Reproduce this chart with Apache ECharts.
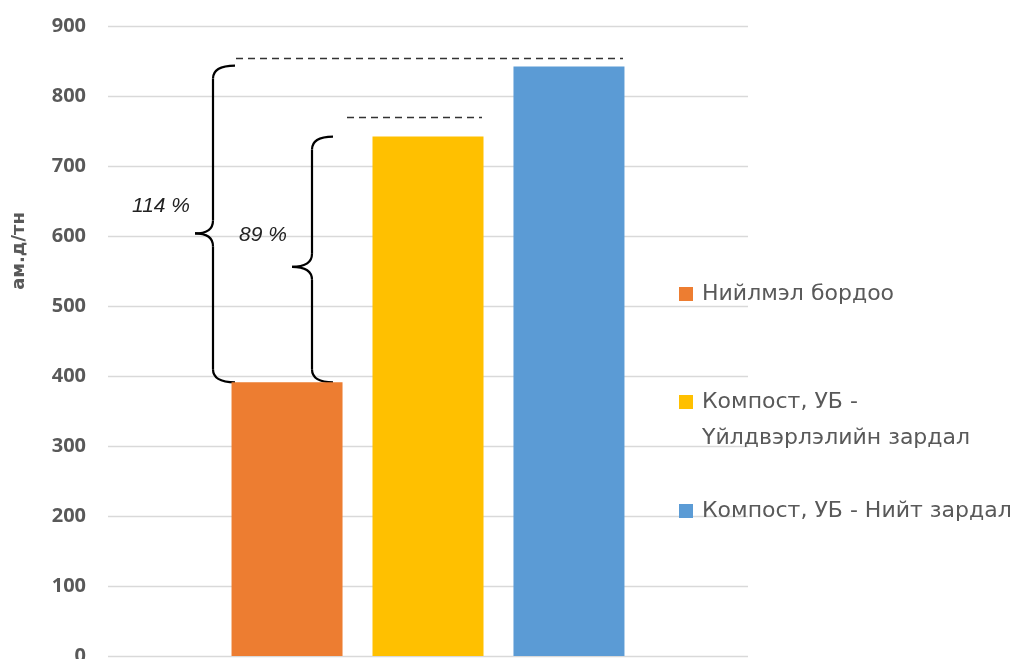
<!DOCTYPE html>
<html><head><meta charset="utf-8">
<script src="https://cdn.jsdelivr.net/npm/echarts@6/dist/echarts.min.js"></script>
<style>html,body{margin:0;padding:0;background:#fff}#c{width:1013px;height:659px}</style>
</head><body><div id="c"></div>
<script>
const categories = [''];
const seriesNames = ['Нийлмэл бордоо', 'Компост, УБ - Үйлдвэрлэлийн зардал', 'Компост, УБ - Нийт зардал'];
const legendLabels = ['Нийлмэл бордоо', 'Компост, УБ -', 'Компост, УБ - Нийт зардал'];
const legendExtraLine = 'Үйлдвэрлэлийн зардал';
const values = [391, 742, 842];
const colors = ['#ED7D31', '#FFC000', '#5B9BD5'];
const yMin = 0, yMax = 900, yInterval = 100;
const axisTitle = 'ам.д/тн';
const pctLabels = ['114 %', '89 %'];

const chart = echarts.init(document.getElementById('c'));
const legendTops = [283, 391, 500];
const legendFont = { color: '#595959', fontSize: 22, fontFamily: 'DejaVu Sans' };
const option = {
  animation: false,
  grid: { left: 108, right: 265, top: 26, bottom: 3, containLabel: false, outerBoundsMode: 'none' },
  xAxis: { type: 'category', data: categories, axisLine: { show: false }, axisTick: { show: false }, axisLabel: { show: false } },
  yAxis: {
    type: 'value', min: yMin, max: yMax, interval: yInterval,
    axisLine: { show: false }, axisTick: { show: false },
    splitLine: { lineStyle: { color: '#d9d9d9', width: 1.3 } },
    axisLabel: { color: '#595959', fontSize: 20, fontWeight: 'bold', fontFamily: 'Open Sans', margin: 22 }
  },
  legend: seriesNames.map((n, i) => ({
    data: [n], left: 679, top: legendTops[i], orient: 'vertical', padding: 0,
    itemWidth: 14, itemHeight: 14, itemGap: 0, icon: 'rect',
    formatter: () => legendLabels[i],
    textStyle: Object.assign({ padding: [0, 0, 0, 4] }, legendFont),
    selectedMode: false
  })),
  series: seriesNames.map((n, i) => ({
    name: n, type: 'bar', data: [values[i]], barWidth: 111, barGap: '27%',
    itemStyle: { color: colors[i] }
  }))
};
chart.setOption(option);

const c = chart.convertToPixel({ xAxisIndex: 0 }, 0);
const py = v => chart.convertToPixel({ yAxisIndex: 0 }, v);
const yOr = py(values[0]), yYe = py(values[1]), yBl = py(values[2]);
const braceStyle = { fill: 'none', stroke: '#000', lineWidth: 2.2 };
function brace(xEnd, xSpine, xTip, yTop, yBot) {
  const yTip = yTop + (yBot - yTop) * 0.53, r = 13;
  const q = (x1, y1, cx, cy, x2, y2) => ({ type: 'bezierCurve', shape: { x1, y1, x2, y2, cpx1: cx, cpy1: cy }, style: braceStyle });
  const l = (x1, y1, x2, y2) => ({ type: 'line', shape: { x1, y1, x2, y2 }, style: braceStyle });
  return [
    q(xEnd, yTop, xSpine, yTop, xSpine, yTop + r),
    l(xSpine, yTop + r, xSpine, yTip - r),
    q(xSpine, yTip - r, xSpine, yTip, xTip, yTip),
    q(xTip, yTip, xSpine, yTip, xSpine, yTip + r),
    l(xSpine, yTip + r, xSpine, yBot - r),
    q(xSpine, yBot - r, xSpine, yBot, xEnd, yBot)
  ];
}
const bigTipY = yBl + (yOr - yBl) * 0.53;
const smallTipY = yYe + (yOr - yYe) * 0.53;
chart.setOption({
  graphic: [
    { type: 'text', x: 19, y: 251, rotation: Math.PI / 2,
      style: { text: axisTitle, fill: '#595959', fontSize: 18, fontWeight: 'bold', fontFamily: 'DejaVu Sans', align: 'center', verticalAlign: 'middle' } },
    ...brace(c - 193, c - 215, c - 233, yBl - 1, yOr),
    ...brace(c - 95, c - 116, c - 136, yYe, yOr),
    { type: 'line', shape: { x1: c - 192, y1: yBl - 8, x2: c + 195, y2: yBl - 8 }, style: { stroke: '#333', lineWidth: 1.5, lineDash: [7, 5] } },
    { type: 'line', shape: { x1: c - 81, y1: yYe - 19, x2: c + 54, y2: yYe - 19 }, style: { stroke: '#333', lineWidth: 1.5, lineDash: [7, 5] } },
    { type: 'text', x: c - 267, y: bigTipY - 28, style: { text: pctLabels[0], fill: '#222', fontSize: 21, fontStyle: 'italic', fontFamily: 'Liberation Sans', align: 'center', verticalAlign: 'middle' } },
    { type: 'text', x: c - 165, y: smallTipY - 32, style: { text: pctLabels[1], fill: '#222', fontSize: 21, fontStyle: 'italic', fontFamily: 'Liberation Sans', align: 'center', verticalAlign: 'middle' } },
    { type: 'text', x: 702, y: 438, style: { text: legendExtraLine, verticalAlign: 'middle', fill: legendFont.color, fontSize: legendFont.fontSize, fontFamily: legendFont.fontFamily } }
  ]
});
</script></body></html>
